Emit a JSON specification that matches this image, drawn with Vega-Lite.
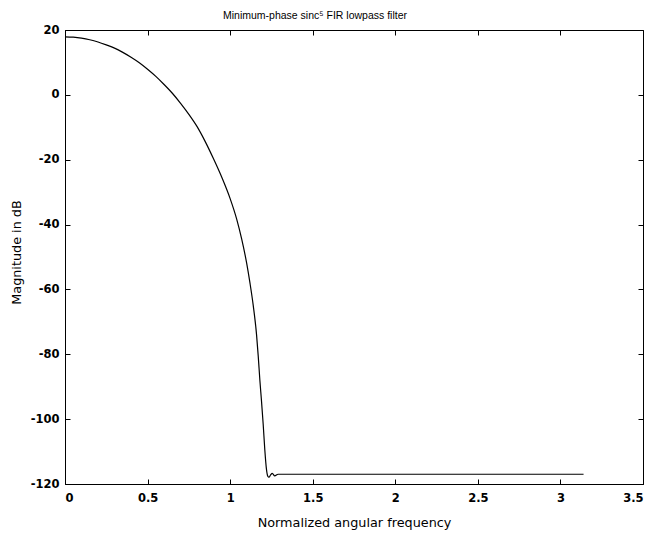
{
  "$schema": "https://vega.github.io/schema/vega-lite/v6.json",
  "autosize": "none",
  "width": 578,
  "height": 454,
  "padding": {"left": 65, "top": 30, "right": 10, "bottom": 49},
  "background": "white",
  "title": {
    "text": "Minimum-phase sinc⁵ FIR lowpass filter",
    "font": "Liberation Sans",
    "fontSize": 10.5,
    "fontWeight": "normal",
    "color": "black",
    "anchor": "middle",
    "dx": -39,
    "offset": 3
  },
  "config": {
    "view": {"stroke": "black", "strokeWidth": 1},
    "axis": {
      "grid": false,
      "domainColor": "black",
      "tickColor": "black",
      "labelColor": "black",
      "titleColor": "black",
      "labelFont": "DejaVu Sans",
      "titleFont": "DejaVu Sans",
      "labelFontSize": 11.5,
      "labelFontWeight": "bold",
      "titleFontSize": 12.8,
      "titleFontWeight": "normal",
      "tickSize": -5
    }
  },
  "data": {
    "values": [
      {"w": 0.00, "db": 17.9},
      {"w": 0.05, "db": 17.8},
      {"w": 0.10, "db": 17.5},
      {"w": 0.15, "db": 17.0},
      {"w": 0.20, "db": 16.3},
      {"w": 0.25, "db": 15.4},
      {"w": 0.30, "db": 14.4},
      {"w": 0.35, "db": 13.1},
      {"w": 0.40, "db": 11.6},
      {"w": 0.45, "db": 9.9},
      {"w": 0.50, "db": 7.9},
      {"w": 0.55, "db": 5.7},
      {"w": 0.60, "db": 3.2},
      {"w": 0.65, "db": 0.5},
      {"w": 0.70, "db": -2.6},
      {"w": 0.75, "db": -6.0},
      {"w": 0.80, "db": -9.8},
      {"w": 0.85, "db": -14.5},
      {"w": 0.90, "db": -19.8},
      {"w": 0.95, "db": -25.5},
      {"w": 1.00, "db": -32.0},
      {"w": 1.04, "db": -38.4},
      {"w": 1.07, "db": -44.5},
      {"w": 1.10, "db": -51.9},
      {"w": 1.12, "db": -58.0},
      {"w": 1.14, "db": -65.0},
      {"w": 1.16, "db": -74.0},
      {"w": 1.17, "db": -80.5},
      {"w": 1.18, "db": -88.0},
      {"w": 1.19, "db": -94.5},
      {"w": 1.20, "db": -101.5},
      {"w": 1.21, "db": -109.5},
      {"w": 1.22, "db": -115.5},
      {"w": 1.228, "db": -117.6},
      {"w": 1.235, "db": -117.9},
      {"w": 1.245, "db": -117.2},
      {"w": 1.255, "db": -116.7},
      {"w": 1.27, "db": -117.5},
      {"w": 1.29, "db": -117.0},
      {"w": 3.14, "db": -117.0}
    ]
  },
  "layer": [
    {
      "mark": {"type": "line", "color": "black", "strokeWidth": 1.2, "interpolate": "monotone"},
      "encoding": {
        "x": {
          "field": "w", "type": "quantitative",
          "scale": {"domain": [0, 3.5], "nice": false, "zero": false},
          "axis": {
            "orient": "bottom",
            "title": "Normalized angular frequency",
            "values": [0, 0.5, 1, 1.5, 2, 2.5, 3, 3.5],
            "labelExpr": "'' + datum.value",
            "labelPadding": 13,
            "titleY": 38,
            "titleBaseline": "middle"
          }
        },
        "y": {
          "field": "db", "type": "quantitative",
          "scale": {"domain": [-120, 20], "nice": false, "zero": false},
          "axis": {
            "orient": "left",
            "title": "Magnitude in dB",
            "values": [-120, -100, -80, -60, -40, -20, 0, 20],
            "labelExpr": "'' + datum.value",
            "labelPadding": 11,
            "titleX": -49,
            "titleY": 222,
            "titleAlign": "center",
            "titleBaseline": "middle",
            "titleAngle": -90
          }
        }
      }
    },
    {
      "mark": {"type": "point", "opacity": 0},
      "encoding": {
        "x": {
          "field": "w", "type": "quantitative",
          "scale": {"domain": [0, 3.5], "nice": false, "zero": false},
          "axis": {"orient": "top", "title": null, "labels": false, "domain": false, "values": [0, 0.5, 1, 1.5, 2, 2.5, 3, 3.5]}
        },
        "y": {
          "field": "db", "type": "quantitative",
          "scale": {"domain": [-120, 20], "nice": false, "zero": false},
          "axis": {"orient": "right", "title": null, "labels": false, "domain": false, "values": [-120, -100, -80, -60, -40, -20, 0, 20]}
        }
      }
    }
  ],
  "resolve": {"axis": {"x": "independent", "y": "independent"}}
}
